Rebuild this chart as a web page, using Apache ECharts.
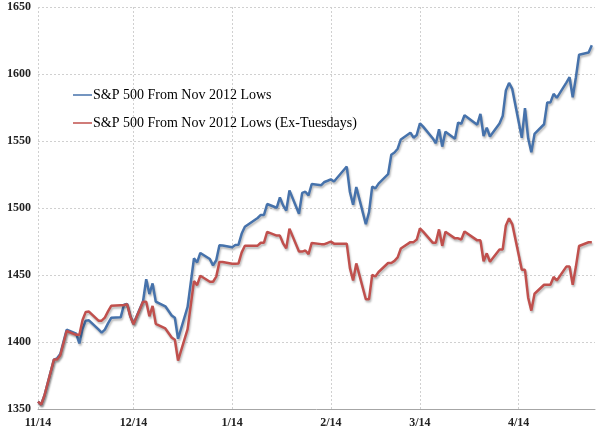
<!DOCTYPE html>
<html lang="en">
<head>
    <meta charset="UTF-8">
    <title>S&amp;P 500 ex-Tuesdays</title>
    <script src="https://cdn.jsdelivr.net/npm/echarts@6/dist/echarts.min.js"></script>
    <style>
        html, body { margin: 0; padding: 0; background: #fff; }
    </style>
</head>
<body>
    <div id="main" style="width: 600px; height: 432px;"></div>
    <script>
        // month ticks shown on the x axis
        var monthLabels = ['11/14', '12/14', '1/14', '2/14', '3/14', '4/14'];

        var seriesNames = ['S&P 500 From Nov 2012 Lows', 'S&P 500 From Nov 2012 Lows (Ex-Tuesdays)'];

        var tradeDays = [
            '11/14', '11/15', '11/16', '11/19', '11/20', '11/21', '11/23', '11/26', '11/27', '11/28', '11/29', '11/30',
            '12/3', '12/4', '12/5', '12/6', '12/7', '12/10', '12/11', '12/12', '12/13', '12/14', '12/17', '12/18', '12/19', '12/20', '12/21', '12/24', '12/26', '12/27', '12/28', '12/31',
            '1/2', '1/3', '1/4', '1/7', '1/8', '1/9', '1/10', '1/11', '1/14', '1/15', '1/16', '1/17', '1/18', '1/22', '1/23', '1/24', '1/25', '1/28', '1/29', '1/30', '1/31',
            '2/1', '2/4', '2/5', '2/6', '2/7', '2/8', '2/11', '2/12', '2/13', '2/14', '2/15', '2/19', '2/20', '2/21', '2/22', '2/25', '2/26', '2/27', '2/28',
            '3/1', '3/4', '3/5', '3/6', '3/7', '3/8', '3/11', '3/12', '3/13', '3/14', '3/15', '3/18', '3/19', '3/20', '3/21', '3/22', '3/25', '3/26', '3/27', '3/28',
            '4/1', '4/2', '4/3', '4/4', '4/5', '4/8', '4/9', '4/10', '4/11', '4/12', '4/15', '4/16', '4/17', '4/18', '4/19', '4/22', '4/23', '4/24', '4/25', '4/26', '4/29', '4/30',
            '5/1', '5/2', '5/3', '5/6', '5/7'
        ];

        var spx = [
            1355.49, 1353.33, 1359.88, 1386.89, 1387.81, 1391.03, 1409.15, 1406.29, 1398.94, 1409.93, 1415.95, 1416.18,
            1409.46, 1407.05, 1409.28, 1413.94, 1418.07, 1418.55, 1427.84, 1428.48, 1419.45, 1413.58, 1430.36, 1446.79, 1435.81, 1443.69, 1430.15, 1426.66, 1419.83, 1418.10, 1402.43, 1426.19,
            1462.42, 1459.37, 1466.47, 1461.89, 1457.15, 1461.02, 1472.12, 1472.05, 1470.68, 1472.34, 1472.63, 1480.94, 1485.98, 1492.56, 1494.81, 1494.82, 1502.96, 1500.18, 1507.84, 1501.96, 1498.11,
            1513.17, 1495.71, 1511.29, 1512.12, 1509.39, 1517.93, 1517.01, 1519.43, 1520.33, 1521.38, 1519.79, 1530.94, 1511.95, 1502.42, 1515.60, 1487.85, 1496.94, 1515.99, 1514.68,
            1518.20, 1525.20, 1539.79, 1541.46, 1544.26, 1551.18, 1556.22, 1552.48, 1554.52, 1563.23, 1560.70, 1552.10, 1548.34, 1558.71, 1545.80, 1556.89, 1551.69, 1563.77, 1562.85, 1569.19,
            1562.17, 1570.25, 1553.69, 1559.98, 1553.28, 1563.07, 1568.61, 1587.73, 1593.37, 1588.85, 1552.36, 1574.57, 1552.01, 1541.61, 1555.25, 1562.50, 1578.78, 1578.79, 1585.16, 1582.24, 1593.61, 1597.57,
            1582.70, 1597.59, 1614.42, 1616.00, 1621.50
        ];

        var spxExTue = [
            1355.49, 1353.33, 1359.88, 1386.89, 1386.89, 1390.11, 1408.22, 1405.36, 1405.36, 1416.40, 1422.45, 1422.68,
            1415.93, 1415.93, 1418.17, 1422.86, 1427.02, 1427.50, 1427.50, 1428.14, 1419.11, 1413.24, 1430.02, 1430.02, 1419.17, 1426.96, 1413.57, 1410.12, 1403.37, 1401.66, 1386.17, 1409.66,
            1445.47, 1442.45, 1449.47, 1444.94, 1444.94, 1448.78, 1459.79, 1459.72, 1458.36, 1458.36, 1458.65, 1466.88, 1471.87, 1471.87, 1474.09, 1474.10, 1482.13, 1479.39, 1479.39, 1473.62, 1469.84,
            1484.61, 1467.48, 1467.48, 1468.29, 1465.64, 1473.93, 1473.04, 1473.04, 1473.91, 1474.93, 1473.39, 1473.39, 1455.11, 1445.94, 1458.63, 1431.92, 1431.92, 1450.14, 1448.89,
            1452.26, 1458.95, 1458.95, 1460.53, 1463.19, 1469.74, 1474.52, 1474.52, 1476.46, 1484.73, 1482.33, 1474.16, 1474.16, 1484.03, 1471.74, 1482.30, 1477.35, 1477.35, 1476.48, 1482.47,
            1475.84, 1475.84, 1460.27, 1466.18, 1459.89, 1469.09, 1469.09, 1487.00, 1492.28, 1488.04, 1453.87, 1453.87, 1433.04, 1423.43, 1436.03, 1442.72, 1442.72, 1442.73, 1448.55, 1445.88, 1456.28, 1456.28,
            1442.72, 1456.29, 1471.64, 1474.44, 1474.44
        ];

        // every calendar day on the axis, so months keep their real width
        var days = [];
        for (var t = Date.UTC(2012, 10, 14); t <= Date.UTC(2013, 4, 8); t += 86400000) {
            var d = new Date(t);
            days.push((d.getUTCMonth() + 1) + '/' + d.getUTCDate());
        }

        function isMonthTick(index, value) {
            return monthLabels.indexOf(value) >= 0;
        }

        var serif = '"Liberation Serif", "DejaVu Serif", serif';

        function lineSeries(name, color, values) {
            return {
                name: name,
                type: 'line',
                showSymbol: false,
                symbol: 'none',
                data: tradeDays.map(function (day, i) { return [day, values[i]]; }),
                itemStyle: { color: color },
                lineStyle: {
                    color: color,
                    width: 2.5,
                    shadowColor: 'rgba(0, 0, 0, 0.28)',
                    shadowBlur: 2,
                    shadowOffsetX: 1,
                    shadowOffsetY: 2
                }
            };
        }

        var myChart = echarts.init(document.getElementById('main'));
        myChart.setOption({
            animation: false,
            grid: { left: 38, right: 5, top: 7, bottom: 23 },
            legend: {
                orient: 'vertical',
                left: 68,
                top: 83,
                itemGap: 14,
                itemWidth: 19,
                itemHeight: 1.5,
                icon: 'rect',
                textStyle: { fontFamily: serif, fontSize: 14, color: '#000', padding: [0, 0, 0, -4] },
                data: seriesNames
            },
            xAxis: {
                type: 'category',
                data: days,
                boundaryGap: false,
                axisLine: { lineStyle: { color: '#a6a6a6', width: 1 } },
                axisTick: { show: false },
                axisLabel: {
                    interval: isMonthTick,
                    fontFamily: serif,
                    fontSize: 12,
                    fontWeight: 'bold',
                    color: '#222',
                    margin: 8
                },
                splitLine: {
                    show: true,
                    interval: isMonthTick,
                    lineStyle: { color: '#d0d0d0', type: [2, 2] }
                }
            },
            yAxis: {
                type: 'value',
                min: 1350,
                max: 1650,
                interval: 50,
                axisLine: { show: false },
                axisTick: { show: false },
                axisLabel: {
                    formatter: function (v) { return String(v); },
                    fontFamily: serif,
                    fontSize: 12,
                    fontWeight: 'bold',
                    color: '#222',
                    margin: 7
                },
                splitLine: { lineStyle: { color: '#d0d0d0', type: [2, 2] } }
            },
            series: [
                lineSeries(seriesNames[0], '#4672ab', spx),
                lineSeries(seriesNames[1], '#c0504d', spxExTue)
            ]
        });
    </script>
</body>
</html>
